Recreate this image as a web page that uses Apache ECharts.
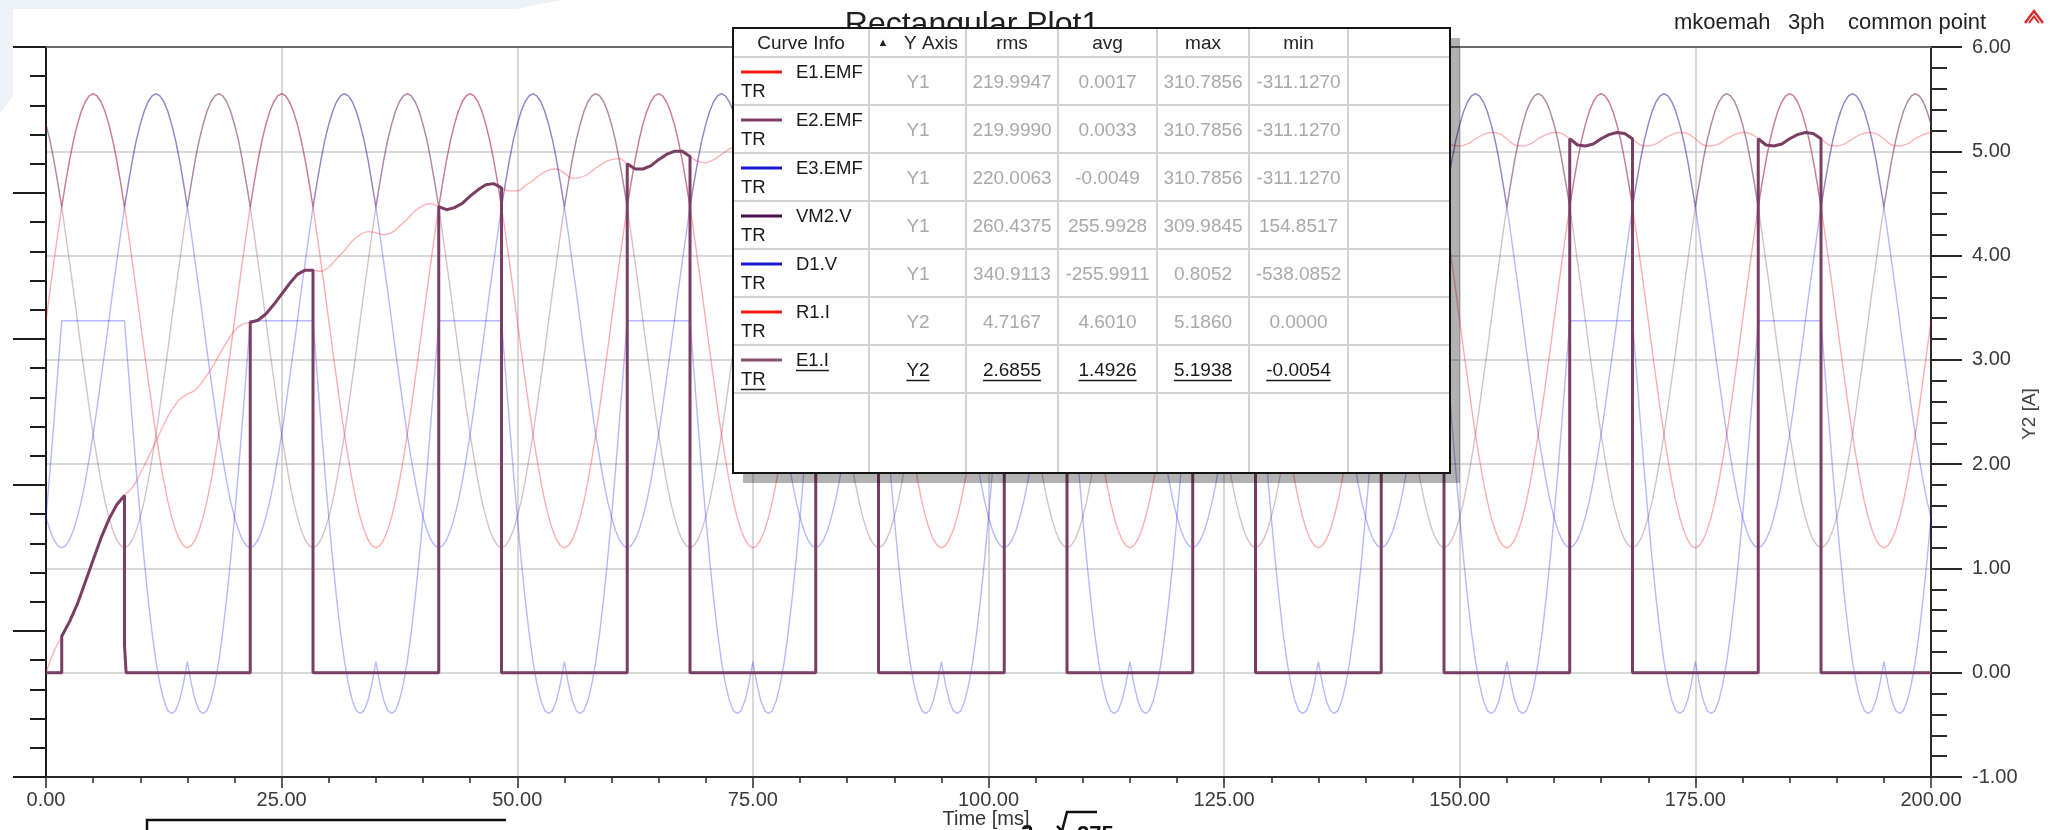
<!DOCTYPE html>
<html>
<head>
<meta charset="utf-8">
<script src="https://cdn.jsdelivr.net/npm/echarts@6/dist/echarts.min.js"></script>
<style>
html,body{margin:0;padding:0;background:#ffffff;}
#c{width:2067px;height:830px;}
</style>
</head>
<body>
<div id="c"></div>
<script>
// ---------- time samples (ms), 7.5 degree steps ----------
const timeMs = [
0,0.42,0.83,1.25,1.67,2.08,2.5,2.92,3.33,3.75,4.17,4.58,5,5.42,5.83,6.25,6.67,7.08,7.5,7.92,8.33,8.75,9.17,9.58,
10,10.42,10.83,11.25,11.67,12.08,12.5,12.92,13.33,13.75,14.17,14.58,15,15.42,15.83,16.25,16.67,17.08,17.5,17.92,18.33,18.75,19.17,19.58,
20,20.42,20.83,21.25,21.67,22.08,22.5,22.92,23.33,23.75,24.17,24.58,25,25.42,25.83,26.25,26.67,27.08,27.5,27.92,28.33,28.75,29.17,29.58,
30,30.42,30.83,31.25,31.67,32.08,32.5,32.92,33.33,33.75,34.17,34.58,35,35.42,35.83,36.25,36.67,37.08,37.5,37.92,38.33,38.75,39.17,39.58,
40,40.42,40.83,41.25,41.67,42.08,42.5,42.92,43.33,43.75,44.17,44.58,45,45.42,45.83,46.25,46.67,47.08,47.5,47.92,48.33,48.75,49.17,49.58,
50,50.42,50.83,51.25,51.67,52.08,52.5,52.92,53.33,53.75,54.17,54.58,55,55.42,55.83,56.25,56.67,57.08,57.5,57.92,58.33,58.75,59.17,59.58,
60,60.42,60.83,61.25,61.67,62.08,62.5,62.92,63.33,63.75,64.17,64.58,65,65.42,65.83,66.25,66.67,67.08,67.5,67.92,68.33,68.75,69.17,69.58,
70,70.42,70.83,71.25,71.67,72.08,72.5,72.92,73.33,73.75,74.17,74.58,75,75.42,75.83,76.25,76.67,77.08,77.5,77.92,78.33,78.75,79.17,79.58,
80,80.42,80.83,81.25,81.67,82.08,82.5,82.92,83.33,83.75,84.17,84.58,85,85.42,85.83,86.25,86.67,87.08,87.5,87.92,88.33,88.75,89.17,89.58,
90,90.42,90.83,91.25,91.67,92.08,92.5,92.92,93.33,93.75,94.17,94.58,95,95.42,95.83,96.25,96.67,97.08,97.5,97.92,98.33,98.75,99.17,99.58,
100,100.42,100.83,101.25,101.67,102.08,102.5,102.92,103.33,103.75,104.17,104.58,105,105.42,105.83,106.25,106.67,107.08,107.5,107.92,108.33,108.75,109.17,109.58,
110,110.42,110.83,111.25,111.67,112.08,112.5,112.92,113.33,113.75,114.17,114.58,115,115.42,115.83,116.25,116.67,117.08,117.5,117.92,118.33,118.75,119.17,119.58,
120,120.42,120.83,121.25,121.67,122.08,122.5,122.92,123.33,123.75,124.17,124.58,125,125.42,125.83,126.25,126.67,127.08,127.5,127.92,128.33,128.75,129.17,129.58,
130,130.42,130.83,131.25,131.67,132.08,132.5,132.92,133.33,133.75,134.17,134.58,135,135.42,135.83,136.25,136.67,137.08,137.5,137.92,138.33,138.75,139.17,139.58,
140,140.42,140.83,141.25,141.67,142.08,142.5,142.92,143.33,143.75,144.17,144.58,145,145.42,145.83,146.25,146.67,147.08,147.5,147.92,148.33,148.75,149.17,149.58,
150,150.42,150.83,151.25,151.67,152.08,152.5,152.92,153.33,153.75,154.17,154.58,155,155.42,155.83,156.25,156.67,157.08,157.5,157.92,158.33,158.75,159.17,159.58,
160,160.42,160.83,161.25,161.67,162.08,162.5,162.92,163.33,163.75,164.17,164.58,165,165.42,165.83,166.25,166.67,167.08,167.5,167.92,168.33,168.75,169.17,169.58,
170,170.42,170.83,171.25,171.67,172.08,172.5,172.92,173.33,173.75,174.17,174.58,175,175.42,175.83,176.25,176.67,177.08,177.5,177.92,178.33,178.75,179.17,179.58,
180,180.42,180.83,181.25,181.67,182.08,182.5,182.92,183.33,183.75,184.17,184.58,185,185.42,185.83,186.25,186.67,187.08,187.5,187.92,188.33,188.75,189.17,189.58,
190,190.42,190.83,191.25,191.67,192.08,192.5,192.92,193.33,193.75,194.17,194.58,195,195.42,195.83,196.25,196.67,197.08,197.5,197.92,198.33,198.75,199.17,199.58,
200];

// ---------- Y1 voltages (V) ----------
const e1Emf = [
0,41,80,119,156,189,220,247,269,287,300,308,311,308,300,287,269,247,220,189,156,119,80,41,0,-41,-80,-119,-156,-189,-220,-247,-269,-287,-300,-308,-311,-308,-300,-287,-269,-247,-220,-189,-156,-119,-80,-41,
0,41,80,119,156,189,220,247,269,287,300,308,311,308,300,287,269,247,220,189,156,119,80,41,0,-41,-80,-119,-156,-189,-220,-247,-269,-287,-300,-308,-311,-308,-300,-287,-269,-247,-220,-189,-156,-119,-80,-41,
0,41,80,119,156,189,220,247,269,287,300,308,311,308,300,287,269,247,220,189,156,119,80,41,0,-41,-80,-119,-156,-189,-220,-247,-269,-287,-300,-308,-311,-308,-300,-287,-269,-247,-220,-189,-156,-119,-80,-41,
0,41,80,119,156,189,220,247,269,287,300,308,311,308,300,287,269,247,220,189,156,119,80,41,0,-41,-80,-119,-156,-189,-220,-247,-269,-287,-300,-308,-311,-308,-300,-287,-269,-247,-220,-189,-156,-119,-80,-41,
0,41,80,119,156,189,220,247,269,287,300,308,311,308,300,287,269,247,220,189,156,119,80,41,0,-41,-80,-119,-156,-189,-220,-247,-269,-287,-300,-308,-311,-308,-300,-287,-269,-247,-220,-189,-156,-119,-80,-41,
0,41,80,119,156,189,220,247,269,287,300,308,311,308,300,287,269,247,220,189,156,119,80,41,0,-41,-80,-119,-156,-189,-220,-247,-269,-287,-300,-308,-311,-308,-300,-287,-269,-247,-220,-189,-156,-119,-80,-41,
0,41,80,119,156,189,220,247,269,287,300,308,311,308,300,287,269,247,220,189,156,119,80,41,0,-41,-80,-119,-156,-189,-220,-247,-269,-287,-300,-308,-311,-308,-300,-287,-269,-247,-220,-189,-156,-119,-80,-41,
0,41,80,119,156,189,220,247,269,287,300,308,311,308,300,287,269,247,220,189,156,119,80,41,0,-41,-80,-119,-156,-189,-220,-247,-269,-287,-300,-308,-311,-308,-300,-287,-269,-247,-220,-189,-156,-119,-80,-41,
0,41,80,119,156,189,220,247,269,287,300,308,311,308,300,287,269,247,220,189,156,119,80,41,0,-41,-80,-119,-156,-189,-220,-247,-269,-287,-300,-308,-311,-308,-300,-287,-269,-247,-220,-189,-156,-119,-80,-41,
0,41,80,119,156,189,220,247,269,287,300,308,311,308,300,287,269,247,220,189,156,119,80,41,0,-41,-80,-119,-156,-189,-220,-247,-269,-287,-300,-308,-311,-308,-300,-287,-269,-247,-220,-189,-156,-119,-80,-41,
0];

const e2Emf = [
269,247,220,189,156,119,80,41,0,-41,-80,-119,-156,-189,-220,-247,-269,-287,-300,-308,-311,-308,-300,-287,-269,-247,-220,-189,-156,-119,-80,-41,0,41,80,119,156,189,220,247,269,287,300,308,311,308,300,287,
269,247,220,189,156,119,80,41,0,-41,-80,-119,-156,-189,-220,-247,-269,-287,-300,-308,-311,-308,-300,-287,-269,-247,-220,-189,-156,-119,-80,-41,0,41,80,119,156,189,220,247,269,287,300,308,311,308,300,287,
269,247,220,189,156,119,80,41,0,-41,-80,-119,-156,-189,-220,-247,-269,-287,-300,-308,-311,-308,-300,-287,-269,-247,-220,-189,-156,-119,-80,-41,0,41,80,119,156,189,220,247,269,287,300,308,311,308,300,287,
269,247,220,189,156,119,80,41,0,-41,-80,-119,-156,-189,-220,-247,-269,-287,-300,-308,-311,-308,-300,-287,-269,-247,-220,-189,-156,-119,-80,-41,0,41,80,119,156,189,220,247,269,287,300,308,311,308,300,287,
269,247,220,189,156,119,80,41,0,-41,-80,-119,-156,-189,-220,-247,-269,-287,-300,-308,-311,-308,-300,-287,-269,-247,-220,-189,-156,-119,-80,-41,0,41,80,119,156,189,220,247,269,287,300,308,311,308,300,287,
269,247,220,189,156,119,80,41,0,-41,-80,-119,-156,-189,-220,-247,-269,-287,-300,-308,-311,-308,-300,-287,-269,-247,-220,-189,-156,-119,-80,-41,0,41,80,119,156,189,220,247,269,287,300,308,311,308,300,287,
269,247,220,189,156,119,80,41,0,-41,-80,-119,-156,-189,-220,-247,-269,-287,-300,-308,-311,-308,-300,-287,-269,-247,-220,-189,-156,-119,-80,-41,0,41,80,119,156,189,220,247,269,287,300,308,311,308,300,287,
269,247,220,189,156,119,80,41,0,-41,-80,-119,-156,-189,-220,-247,-269,-287,-300,-308,-311,-308,-300,-287,-269,-247,-220,-189,-156,-119,-80,-41,0,41,80,119,156,189,220,247,269,287,300,308,311,308,300,287,
269,247,220,189,156,119,80,41,0,-41,-80,-119,-156,-189,-220,-247,-269,-287,-300,-308,-311,-308,-300,-287,-269,-247,-220,-189,-156,-119,-80,-41,0,41,80,119,156,189,220,247,269,287,300,308,311,308,300,287,
269,247,220,189,156,119,80,41,0,-41,-80,-119,-156,-189,-220,-247,-269,-287,-300,-308,-311,-308,-300,-287,-269,-247,-220,-189,-156,-119,-80,-41,0,41,80,119,156,189,220,247,269,287,300,308,311,308,300,287,
269];

const e3Emf = [
-269,-287,-300,-308,-311,-308,-300,-287,-269,-247,-220,-189,-156,-119,-80,-41,0,41,80,119,156,189,220,247,269,287,300,308,311,308,300,287,269,247,220,189,156,119,80,41,0,-41,-80,-119,-156,-189,-220,-247,
-269,-287,-300,-308,-311,-308,-300,-287,-269,-247,-220,-189,-156,-119,-80,-41,0,41,80,119,156,189,220,247,269,287,300,308,311,308,300,287,269,247,220,189,156,119,80,41,0,-41,-80,-119,-156,-189,-220,-247,
-269,-287,-300,-308,-311,-308,-300,-287,-269,-247,-220,-189,-156,-119,-80,-41,0,41,80,119,156,189,220,247,269,287,300,308,311,308,300,287,269,247,220,189,156,119,80,41,0,-41,-80,-119,-156,-189,-220,-247,
-269,-287,-300,-308,-311,-308,-300,-287,-269,-247,-220,-189,-156,-119,-80,-41,0,41,80,119,156,189,220,247,269,287,300,308,311,308,300,287,269,247,220,189,156,119,80,41,0,-41,-80,-119,-156,-189,-220,-247,
-269,-287,-300,-308,-311,-308,-300,-287,-269,-247,-220,-189,-156,-119,-80,-41,0,41,80,119,156,189,220,247,269,287,300,308,311,308,300,287,269,247,220,189,156,119,80,41,0,-41,-80,-119,-156,-189,-220,-247,
-269,-287,-300,-308,-311,-308,-300,-287,-269,-247,-220,-189,-156,-119,-80,-41,0,41,80,119,156,189,220,247,269,287,300,308,311,308,300,287,269,247,220,189,156,119,80,41,0,-41,-80,-119,-156,-189,-220,-247,
-269,-287,-300,-308,-311,-308,-300,-287,-269,-247,-220,-189,-156,-119,-80,-41,0,41,80,119,156,189,220,247,269,287,300,308,311,308,300,287,269,247,220,189,156,119,80,41,0,-41,-80,-119,-156,-189,-220,-247,
-269,-287,-300,-308,-311,-308,-300,-287,-269,-247,-220,-189,-156,-119,-80,-41,0,41,80,119,156,189,220,247,269,287,300,308,311,308,300,287,269,247,220,189,156,119,80,41,0,-41,-80,-119,-156,-189,-220,-247,
-269,-287,-300,-308,-311,-308,-300,-287,-269,-247,-220,-189,-156,-119,-80,-41,0,41,80,119,156,189,220,247,269,287,300,308,311,308,300,287,269,247,220,189,156,119,80,41,0,-41,-80,-119,-156,-189,-220,-247,
-269,-287,-300,-308,-311,-308,-300,-287,-269,-247,-220,-189,-156,-119,-80,-41,0,41,80,119,156,189,220,247,269,287,300,308,311,308,300,287,269,247,220,189,156,119,80,41,0,-41,-80,-119,-156,-189,-220,-247,
-269];

const vm2V = [
269,247,220,189,156,189,220,247,269,287,300,308,311,308,300,287,269,247,220,189,156,189,220,247,269,287,300,308,311,308,300,287,269,247,220,189,156,189,220,247,269,287,300,308,311,308,300,287,
269,247,220,189,156,189,220,247,269,287,300,308,311,308,300,287,269,247,220,189,156,189,220,247,269,287,300,308,311,308,300,287,269,247,220,189,156,189,220,247,269,287,300,308,311,308,300,287,
269,247,220,189,156,189,220,247,269,287,300,308,311,308,300,287,269,247,220,189,156,189,220,247,269,287,300,308,311,308,300,287,269,247,220,189,156,189,220,247,269,287,300,308,311,308,300,287,
269,247,220,189,156,189,220,247,269,287,300,308,311,308,300,287,269,247,220,189,156,189,220,247,269,287,300,308,311,308,300,287,269,247,220,189,156,189,220,247,269,287,300,308,311,308,300,287,
269,247,220,189,156,189,220,247,269,287,300,308,311,308,300,287,269,247,220,189,156,189,220,247,269,287,300,308,311,308,300,287,269,247,220,189,156,189,220,247,269,287,300,308,311,308,300,287,
269,247,220,189,156,189,220,247,269,287,300,308,311,308,300,287,269,247,220,189,156,189,220,247,269,287,300,308,311,308,300,287,269,247,220,189,156,189,220,247,269,287,300,308,311,308,300,287,
269,247,220,189,156,189,220,247,269,287,300,308,311,308,300,287,269,247,220,189,156,189,220,247,269,287,300,308,311,308,300,287,269,247,220,189,156,189,220,247,269,287,300,308,311,308,300,287,
269,247,220,189,156,189,220,247,269,287,300,308,311,308,300,287,269,247,220,189,156,189,220,247,269,287,300,308,311,308,300,287,269,247,220,189,156,189,220,247,269,287,300,308,311,308,300,287,
269,247,220,189,156,189,220,247,269,287,300,308,311,308,300,287,269,247,220,189,156,189,220,247,269,287,300,308,311,308,300,287,269,247,220,189,156,189,220,247,269,287,300,308,311,308,300,287,
269,247,220,189,156,189,220,247,269,287,300,308,311,308,300,287,269,247,220,189,156,189,220,247,269,287,300,308,311,308,300,287,269,247,220,189,156,189,220,247,269,287,300,308,311,308,300,287,
269];

const d1V = [
-269,-206,-140,-70,0,0,0,0,0,0,0,0,0,0,0,0,0,0,0,0,0,-70,-140,-206,-269,-328,-380,-427,-467,-497,-520,-534,-538,-534,-520,-497,-467,-497,-520,-534,-538,-534,-520,-497,-467,-427,-380,-328,
-269,-206,-140,-70,0,0,0,0,0,0,0,0,0,0,0,0,0,0,0,0,0,-70,-140,-206,-269,-328,-380,-427,-467,-497,-520,-534,-538,-534,-520,-497,-467,-497,-520,-534,-538,-534,-520,-497,-467,-427,-380,-328,
-269,-206,-140,-70,0,0,0,0,0,0,0,0,0,0,0,0,0,0,0,0,0,-70,-140,-206,-269,-328,-380,-427,-467,-497,-520,-534,-538,-534,-520,-497,-467,-497,-520,-534,-538,-534,-520,-497,-467,-427,-380,-328,
-269,-206,-140,-70,0,0,0,0,0,0,0,0,0,0,0,0,0,0,0,0,0,-70,-140,-206,-269,-328,-380,-427,-467,-497,-520,-534,-538,-534,-520,-497,-467,-497,-520,-534,-538,-534,-520,-497,-467,-427,-380,-328,
-269,-206,-140,-70,0,0,0,0,0,0,0,0,0,0,0,0,0,0,0,0,0,-70,-140,-206,-269,-328,-380,-427,-467,-497,-520,-534,-538,-534,-520,-497,-467,-497,-520,-534,-538,-534,-520,-497,-467,-427,-380,-328,
-269,-206,-140,-70,0,0,0,0,0,0,0,0,0,0,0,0,0,0,0,0,0,-70,-140,-206,-269,-328,-380,-427,-467,-497,-520,-534,-538,-534,-520,-497,-467,-497,-520,-534,-538,-534,-520,-497,-467,-427,-380,-328,
-269,-206,-140,-70,0,0,0,0,0,0,0,0,0,0,0,0,0,0,0,0,0,-70,-140,-206,-269,-328,-380,-427,-467,-497,-520,-534,-538,-534,-520,-497,-467,-497,-520,-534,-538,-534,-520,-497,-467,-427,-380,-328,
-269,-206,-140,-70,0,0,0,0,0,0,0,0,0,0,0,0,0,0,0,0,0,-70,-140,-206,-269,-328,-380,-427,-467,-497,-520,-534,-538,-534,-520,-497,-467,-497,-520,-534,-538,-534,-520,-497,-467,-427,-380,-328,
-269,-206,-140,-70,0,0,0,0,0,0,0,0,0,0,0,0,0,0,0,0,0,-70,-140,-206,-269,-328,-380,-427,-467,-497,-520,-534,-538,-534,-520,-497,-467,-497,-520,-534,-538,-534,-520,-497,-467,-427,-380,-328,
-269,-206,-140,-70,0,0,0,0,0,0,0,0,0,0,0,0,0,0,0,0,0,-70,-140,-206,-269,-328,-380,-427,-467,-497,-520,-534,-538,-534,-520,-497,-467,-497,-520,-534,-538,-534,-520,-497,-467,-427,-380,-328,
-269];

// ---------- Y2 currents (A) ----------
const r1Time = [
0,0.83,1.67,2.5,3.33,4.17,5,5.83,6.67,7.5,8.33,9.17,
10,10.83,11.67,12.5,13.33,14.17,15,15.83,16.67,17.5,18.33,19.17,
20,20.83,21.67,22.5,23.33,24.17,25,25.83,26.67,27.5,28.33,29.17,
30,30.83,31.67,32.5,33.33,34.17,35,35.83,36.67,37.5,38.33,39.17,
40,40.83,41.67,42.5,43.33,44.17,45,45.83,46.67,47.5,48.33,49.17,
50,50.83,51.67,52.5,53.33,54.17,55,55.83,56.67,57.5,58.33,59.17,
60,60.83,61.67,62.5,63.33,64.17,65,65.83,66.67,67.5,68.33,69.17,
70,70.83,71.67,72.5,73.33,74.17,75,75.83,76.67,77.5,78.33,79.17,
80,80.83,81.67,82.5,83.33,84.17,85,85.83,86.67,87.5,88.33,89.17,
90,90.83,91.67,92.5,93.33,94.17,95,95.83,96.67,97.5,98.33,99.17,
100,100.83,101.67,102.5,103.33,104.17,105,105.83,106.67,107.5,108.33,109.17,
110,110.83,111.67,112.5,113.33,114.17,115,115.83,116.67,117.5,118.33,119.17,
120,120.83,121.67,122.5,123.33,124.17,125,125.83,126.67,127.5,128.33,129.17,
130,130.83,131.67,132.5,133.33,134.17,135,135.83,136.67,137.5,138.33,139.17,
140,140.83,141.67,142.5,143.33,144.17,145,145.83,146.67,147.5,148.33,149.17,
150,150.83,151.67,152.5,153.33,154.17,155,155.83,156.67,157.5,158.33,159.17,
160,160.83,161.67,162.5,163.33,164.17,165,165.83,166.67,167.5,168.33,169.17,
170,170.83,171.67,172.5,173.33,174.17,175,175.83,176.67,177.5,178.33,179.17,
180,180.83,181.67,182.5,183.33,184.17,185,185.83,186.67,187.5,188.33,189.17,
190,190.83,191.67,192.5,193.33,194.17,195,195.83,196.67,197.5,198.33,199.17,
200];

const r1I = [
0.00,0.20,0.35,0.49,0.66,0.87,1.08,1.29,1.47,1.61,1.70,1.78,
1.91,2.06,2.22,2.38,2.52,2.62,2.67,2.71,2.80,2.91,3.04,3.17,
3.28,3.34,3.36,3.38,3.44,3.53,3.63,3.73,3.82,3.86,3.86,3.85,
3.89,3.97,4.05,4.14,4.20,4.23,4.22,4.20,4.22,4.28,4.35,4.43,
4.48,4.50,4.47,4.44,4.46,4.50,4.57,4.63,4.68,4.69,4.65,4.62,
4.62,4.67,4.72,4.78,4.82,4.83,4.79,4.74,4.75,4.78,4.84,4.89,
4.92,4.93,4.88,4.83,4.83,4.86,4.92,4.97,5.00,5.00,4.95,4.90,
4.89,4.92,4.97,5.02,5.05,5.05,4.99,4.94,4.94,4.97,5.01,5.06,
5.09,5.08,5.03,4.98,4.97,5.00,5.04,5.09,5.11,5.11,5.05,5.00,
4.99,5.02,5.06,5.11,5.13,5.13,5.07,5.02,5.01,5.03,5.08,5.12,
5.15,5.14,5.08,5.03,5.02,5.05,5.09,5.13,5.16,5.15,5.09,5.04,
5.03,5.05,5.10,5.14,5.16,5.16,5.10,5.04,5.04,5.06,5.10,5.15,
5.17,5.16,5.10,5.05,5.04,5.06,5.11,5.15,5.17,5.16,5.11,5.05,
5.04,5.07,5.11,5.15,5.18,5.17,5.11,5.05,5.04,5.07,5.11,5.15,
5.18,5.17,5.11,5.05,5.05,5.07,5.11,5.15,5.18,5.17,5.11,5.06,
5.05,5.07,5.12,5.16,5.18,5.17,5.12,5.06,5.05,5.07,5.12,5.16,
5.18,5.17,5.12,5.06,5.05,5.07,5.12,5.16,5.18,5.17,5.12,5.06,
5.05,5.07,5.12,5.16,5.18,5.17,5.12,5.06,5.05,5.07,5.12,5.16,
5.18,5.17,5.12,5.06,5.05,5.07,5.12,5.16,5.18,5.17,5.12,5.06,
5.05,5.07,5.12,5.16,5.18,5.17,5.12,5.06,5.05,5.07,5.12,5.16,
5.18];

// E1.I : [time ms, current A]
const e1I = [
[0,0],[1.67,0],[1.67,0.35],[2.5,0.49],[3.33,0.66],[4.17,0.87],[5,1.08],[5.83,1.29],[6.67,1.47],[7.5,1.61],[8.33,1.70],[8.33,0.26],[8.5,0],
[21.67,0],[21.67,3.36],[22.5,3.38],[23.33,3.44],[24.17,3.53],[25,3.63],[25.83,3.73],[26.67,3.82],[27.5,3.86],[28.33,3.86],[28.33,0],
[41.67,0],[41.67,4.47],[42.5,4.44],[43.33,4.46],[44.17,4.50],[45,4.57],[45.83,4.63],[46.67,4.68],[47.5,4.69],[48.33,4.65],[48.33,0],
[61.67,0],[61.67,4.88],[62.5,4.83],[63.33,4.83],[64.17,4.86],[65,4.92],[65.83,4.97],[66.67,5.00],[67.5,5.00],[68.33,4.95],[68.33,0],
[81.67,0],[81.67,5.03],[82.5,4.98],[83.33,4.97],[84.17,5.00],[85,5.04],[85.83,5.09],[86.67,5.11],[87.5,5.11],[88.33,5.05],[88.33,0],
[101.67,0],[101.67,5.08],[102.5,5.03],[103.33,5.02],[104.17,5.05],[105,5.09],[105.83,5.13],[106.67,5.16],[107.5,5.15],[108.33,5.09],[108.33,0],
[121.67,0],[121.67,5.10],[122.5,5.05],[123.33,5.04],[124.17,5.06],[125,5.11],[125.83,5.15],[126.67,5.17],[127.5,5.16],[128.33,5.11],[128.33,0],
[141.67,0],[141.67,5.11],[142.5,5.05],[143.33,5.05],[144.17,5.07],[145,5.11],[145.83,5.15],[146.67,5.18],[147.5,5.17],[148.33,5.11],[148.33,0],
[161.67,0],[161.67,5.12],[162.5,5.06],[163.33,5.05],[164.17,5.07],[165,5.12],[165.83,5.16],[166.67,5.18],[167.5,5.17],[168.33,5.12],[168.33,0],
[181.67,0],[181.67,5.12],[182.5,5.06],[183.33,5.05],[184.17,5.07],[185,5.12],[185.83,5.16],[186.67,5.18],[187.5,5.17],[188.33,5.12],[188.33,0],
[200,0]];

// ---------- curve info table ----------
const curveNames = ['E1.EMF','E2.EMF','E3.EMF','VM2.V','D1.V','R1.I','E1.I'];
const curveAxis  = ['Y1','Y1','Y1','Y1','Y1','Y2','Y2'];
const rmsVals = ['219.9947','219.9990','220.0063','260.4375','340.9113','4.7167','2.6855'];
const avgVals = ['0.0017','0.0033','-0.0049','255.9928','-255.9911','4.6010','1.4926'];
const maxVals = ['310.7856','310.7856','310.7856','309.9845','0.8052','5.1860','5.1938'];
const minVals = ['-311.1270','-311.1270','-311.1270','154.8517','-538.0852','0.0000','-0.0054'];
const tableHeaders = ['Curve Info','Y Axis','rms','avg','max','min'];
const xTicks = [0, 25, 50, 75, 100, 125, 150, 175, 200];

// ---------- styling ----------
const FONT = '"Liberation Sans", Arial, Helvetica, sans-serif';
const legendColors = ['#f01818','#7d4066','#1818d0','#4a1050','#1818d0','#f01818','#85506e'];
const plotColors = ['rgba(255,0,0,0.32)','rgba(128,60,100,0.32)','rgba(20,20,255,0.30)','rgba(75,10,80,0.30)','rgba(20,20,255,0.30)','rgba(255,0,0,0.30)','#7a3d63'];

function pairs(ts, vs) { return ts.map((t, i) => [t, vs[i]]); }

function lineSeries(name, axis, data, color, width, smooth, z) {
  return {
    name, type: 'line', yAxisIndex: axis, data,
    symbol: 'none', showSymbol: false, smooth: smooth || false,
    silent: true, animation: false, z: z,
    lineStyle: { color, width }, itemStyle: { color },
    emphasis: { disabled: true }
  };
}

const series = [
  lineSeries('E1.EMF', 0, pairs(timeMs, e1Emf), plotColors[0], 1.4, false, 2),
  lineSeries('E2.EMF', 0, pairs(timeMs, e2Emf), plotColors[1], 1.4, false, 2),
  lineSeries('E3.EMF', 0, pairs(timeMs, e3Emf), plotColors[2], 1.4, false, 2),
  lineSeries('VM2.V', 0, pairs(timeMs, vm2V), plotColors[3], 1.4, false, 2),
  lineSeries('D1.V', 0, pairs(timeMs, d1V), plotColors[4], 1.4, false, 2),
  lineSeries('R1.I', 1, pairs(r1Time, r1I), plotColors[5], 1.4, 0.4, 3),
  lineSeries('E1.I', 1, e1I, plotColors[6], 3, false, 4)
];

// ---------- overlay graphics ----------
const measureCtx = document.createElement('canvas').getContext('2d');
function textWidth(str, font) { measureCtx.font = font; return measureCtx.measureText(str).width; }

const els = [];
function txt(text, x, y, font, fill, align, vAlign, z, extra) {
  const e = { type: 'text', z: z, silent: true,
    style: { text, x, y, font, fill, align: align || 'left', verticalAlign: vAlign || 'middle' } };
  if (extra) Object.assign(e, extra);
  els.push(e);
}
function ln(x1, y1, x2, y2, stroke, w, z) {
  els.push({ type: 'line', z: z, silent: true, shape: { x1, y1, x2, y2 }, style: { stroke, lineWidth: w } });
}

// faint screenshot background at top-left
els.push({ type: 'polygon', z: 0, silent: true,
  shape: { points: [[0,0],[562,0],[516,9],[13,9],[13,96],[0,114]] }, style: { fill: '#edf2f7' } });

// top frame line of the plot
ln(46, 47, 1931, 47, '#6a6a6a', 2, 10);

// title (partly hidden behind the table)
txt('Rectangular Plot1', 972, 25, '32px ' + FONT, '#1f1f1f', 'center', 'middle', 50);

// top right info
txt('mkoemah', 1674, 23, '22px ' + FONT, '#222222', 'left', 'middle', 50);
txt('3ph', 1788, 23, '22px ' + FONT, '#222222', 'left', 'middle', 50);
txt('common point', 1848, 23, '22px ' + FONT, '#222222', 'left', 'middle', 50);
// small red logo
els.push({ type: 'polyline', z: 50, silent: true, shape: { points: [[2025,23],[2034,11],[2043,23]] }, style: { stroke: '#d82a2a', lineWidth: 2.5, fill: null } });
els.push({ type: 'polyline', z: 50, silent: true, shape: { points: [[2029,23],[2034,16.5],[2039,23]] }, style: { stroke: '#d82a2a', lineWidth: 2, fill: null } });

// axis names
txt('Time [ms]', 986, 819, '20px ' + FONT, '#333333', 'center', 'middle', 50);
els.push({ type: 'text', z: 50, silent: true, x: 2030, y: 414, rotation: Math.PI / 2,
  style: { text: 'Y2 [A]', x: 0, y: 0, font: '19px ' + FONT, fill: '#444444', align: 'center', verticalAlign: 'middle' } });

// table
const T = { x: 733, y: 28, w: 717, h: 445 };
const colX = [733, 869, 966, 1058, 1157, 1249, 1348, 1450];
const headBottom = 57, rowH = 48;
els.push({ type: 'rect', z: 98, silent: true, shape: { x: T.x + 10, y: T.y + 10, width: T.w, height: T.h }, style: { fill: 'rgba(0,0,0,0.30)' } });
els.push({ type: 'rect', z: 99, silent: true, shape: { x: T.x, y: T.y, width: T.w, height: T.h }, style: { fill: '#ffffff' } });
for (let i = 0; i <= curveNames.length; i++) {
  const y = headBottom + i * rowH;
  ln(T.x + 1, y, T.x + T.w - 1, y, '#d2d2d2', 2, 100);
}
for (let c = 1; c < colX.length - 1; c++) ln(colX[c], T.y + 1, colX[c], T.y + T.h - 1, '#d2d2d2', 2, 100);
els.push({ type: 'rect', z: 101, silent: true, shape: { x: T.x, y: T.y, width: T.w, height: T.h }, style: { fill: null, stroke: '#141414', lineWidth: 2 } });

const HF = '19px ' + FONT;
const hy = 44;
txt(tableHeaders[0], 801, hy, HF, '#222222', 'center', 'middle', 102);
txt('\u25B2', 883, hy - 1, '11px ' + FONT, '#222222', 'center', 'middle', 102);
txt(tableHeaders[1], 931, hy, HF, '#222222', 'center', 'middle', 102);
const valCols = [918, 1012, 1107.5, 1203, 1298.5];
for (let k = 2; k < tableHeaders.length; k++) txt(tableHeaders[k], valCols[k - 1], hy, HF, '#222222', 'center', 'middle', 102);

const NF = '18.5px ' + FONT, VF = '19px ' + FONT;
for (let i = 0; i < curveNames.length; i++) {
  const top = headBottom + i * rowH;
  const sel = (i === curveNames.length - 1);
  const vColor = sel ? '#1a1a1a' : '#a9a9a9';
  ln(741, top + 15, 782, top + 15, legendColors[i], 3, 102);
  txt(curveNames[i], 796, top + 16, NF, '#1a1a1a', 'left', 'middle', 102);
  txt('TR', 741, top + 35, NF, '#1a1a1a', 'left', 'middle', 102);
  const vals = [curveAxis[i], rmsVals[i], avgVals[i], maxVals[i], minVals[i]];
  for (let c = 0; c < vals.length; c++) {
    txt(vals[c], valCols[c], top + 26, VF, vColor, 'center', 'middle', 102);
    if (sel) {
      const w = textWidth(vals[c], VF);
      ln(valCols[c] - w / 2, top + 35.5, valCols[c] + w / 2, top + 35.5, '#1a1a1a', 1.5, 102);
    }
  }
  if (sel) {
    const wn = textWidth(curveNames[i], NF);
    ln(796, top + 25.5, 796 + wn, top + 25.5, '#1a1a1a', 1.5, 102);
    const wt = textWidth('TR', NF);
    ln(741, top + 44.5, 741 + wt, top + 44.5, '#1a1a1a', 1.5, 102);
  }
}

// screenshot leftovers along the bottom edge
els.push({ type: 'polyline', z: 50, silent: true, shape: { points: [[147,831],[147,820],[506,820]] }, style: { stroke: '#111111', lineWidth: 2.5, fill: null } });
els.push({ type: 'polyline', z: 50, silent: true, shape: { points: [[1057,826],[1062,831],[1067,812],[1097,812]] }, style: { stroke: '#111111', lineWidth: 2.5, fill: null } });
txt('2', 1021, 823, 'bold 22px ' + FONT, '#111111', 'left', 'top', 50);
txt('275', 1077, 824, 'bold 22px ' + FONT, '#111111', 'left', 'top', 50);

// ---------- chart ----------
const axisDark = '#2a2a2a';
const option = {
  animation: false,
  backgroundColor: '#ffffff',
  grid: { left: 46, right: 136, top: 47, bottom: 53, containLabel: false },
  xAxis: {
    type: 'value', min: xTicks[0], max: xTicks[xTicks.length - 1], interval: xTicks[1] - xTicks[0],
    axisLine: { show: true, onZero: false, lineStyle: { color: axisDark, width: 2 } },
    axisTick: { show: true, length: 11, lineStyle: { color: axisDark, width: 1.5 } },
    minorTick: { show: true, splitNumber: 5, length: 6, lineStyle: { color: axisDark, width: 1.5 } },
    splitLine: { show: true, lineStyle: { color: '#cbcbcb', width: 1.5 } },
    minorSplitLine: { show: false },
    axisLabel: { show: true, margin: 13, fontSize: 20, color: '#3a3a3a', fontFamily: FONT,
      formatter: v => v.toFixed(2) }
  },
  yAxis: [
    {
      type: 'value', position: 'left', min: -625, max: 375, interval: 200,
      axisLine: { show: true, onZero: false, lineStyle: { color: '#1c1c1c', width: 2 } },
      axisTick: { show: true, length: 33, lineStyle: { color: '#1c1c1c', width: 2 } },
      minorTick: { show: true, splitNumber: 5, length: 16, lineStyle: { color: '#1c1c1c', width: 2 } },
      splitLine: { show: false },
      axisLabel: { show: false }
    },
    {
      type: 'value', position: 'right', min: -1, max: 6, interval: 1,
      axisLine: { show: true, onZero: false, lineStyle: { color: axisDark, width: 2 } },
      axisTick: { show: true, length: 31, lineStyle: { color: axisDark, width: 2 } },
      minorTick: { show: true, splitNumber: 5, length: 16, lineStyle: { color: axisDark, width: 2 } },
      splitLine: { show: true, lineStyle: { color: '#cbcbcb', width: 1.5 } },
      axisLabel: { show: true, margin: 41, fontSize: 20, color: '#3a3a3a', fontFamily: FONT,
        formatter: v => v.toFixed(2) }
    }
  ],
  series: series,
  graphic: { elements: els }
};

const chart = echarts.init(document.getElementById('c'), null, { renderer: 'canvas' });
chart.setOption(option);
</script>
</body>
</html>
